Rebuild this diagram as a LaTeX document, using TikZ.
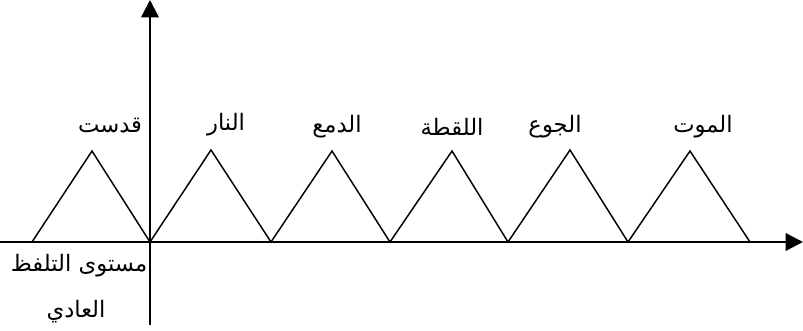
\documentclass[tikz,border=0pt]{standalone}
\usepackage{fontspec}
\newfontfamily\arabicfont[Script=Arabic]{DejaVu Sans}
\TeXXeTstate=1
\usetikzlibrary{arrows.meta}
\begin{document}
\begin{tikzpicture}[x=0.75pt,y=-0.75pt,
  axis/.style={line width=1.8pt,-{Triangle[length=13pt,width=13pt]}},
  tri/.style={line width=1.1pt,line join=miter},
  lbl/.style={font=\arabicfont\fontsize{17}{20}\selectfont,inner sep=0pt}]
\useasboundingbox (0,0) rectangle (803,331);
% axes
\coordinate (xl) at (0,242);
\coordinate (xr) at (803,242);
\coordinate (yb) at (150,325);
\coordinate (yt) at (150,0);
\draw[axis] (xl) -- (xr);
\draw[axis] (yb) -- (yt);
% triangle base points
\coordinate (b0) at (32,242);
\coordinate (b1) at (150,242);
\coordinate (b2) at (271,242);
\coordinate (b3) at (390,242);
\coordinate (b4) at (508,242);
\coordinate (b5) at (628,242);
\coordinate (b6) at (750,242);
% peaks
\coordinate (p1) at (92,151);
\coordinate (p2) at (211,150);
\coordinate (p3) at (332,151);
\coordinate (p4) at (452,151);
\coordinate (p5) at (570,150);
\coordinate (p6) at (690,151);
\draw[tri] (b0) -- (p1) -- (b1) -- (p2) -- (b2) -- (p3) -- (b3) -- (p4) -- (b4) -- (p5) -- (b5) -- (p6) -- (b6);
% labels
\node[lbl] (l1) at (110,126) {\beginR قدست\endR};
\node[lbl] (l2) at (226,125) {\beginR النار\endR};
\node[lbl] (l3) at (337,127) {\beginR الدمع\endR};
\node[lbl] (l4) at (452,127) {\beginR اللقطة\endR};
\node[lbl] (l5) at (555,127) {\beginR الجوع\endR};
\node[lbl] (l6) at (703,127) {\beginR الموت\endR};
\node[lbl] (n1) at (79,266) {\beginR مستوى التلفظ\endR};
\node[lbl] (n2) at (76,312) {\beginR العادي\endR};
\end{tikzpicture}
\end{document}
